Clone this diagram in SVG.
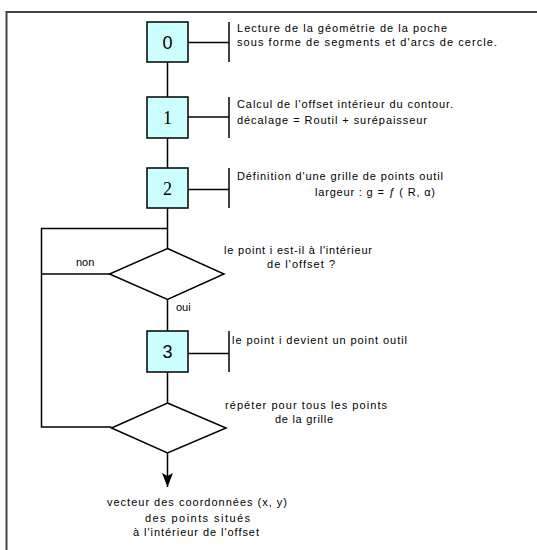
<svg xmlns="http://www.w3.org/2000/svg" width="537" height="550" viewBox="0 0 537 550">
<style>
.frame{stroke:#444;stroke-width:2;fill:none}
.ln{stroke:#000;stroke-width:1.5;fill:none}
.box{fill:#ccffff;stroke:#000;stroke-width:1.5}
.dia{fill:#fff;stroke:#000;stroke-width:1.5}
.t{font-family:"Liberation Sans",Arial,sans-serif;font-size:11px;fill:#000}
.num{font-size:18px;fill:#000;text-anchor:middle}
.sans{font-family:"Liberation Sans",Arial,sans-serif}
.serif{font-family:"Liberation Serif","Times New Roman",serif}
</style>
<defs>
<marker id="arr" viewBox="0 0 14 11" refX="14" refY="5.5" markerWidth="14" markerHeight="11" markerUnits="userSpaceOnUse" orient="auto">
<path d="M0,0 L14,5.5 L0,11 L3,5.5 Z" fill="#000"/>
</marker>
</defs>
<rect width="537" height="550" fill="#fff"/>
<path class="frame" d="M6.5,550 V12 H537"/>
<g id="connectors">
<line class="ln" x1="167.5" y1="62" x2="167.5" y2="97"/>
<line class="ln" x1="167.5" y1="138" x2="167.5" y2="168"/>
<line class="ln" x1="167.5" y1="208" x2="167.5" y2="248.5"/>
<polyline class="ln" points="109.5,274 41.5,274"/>
<polyline class="ln" points="167.5,228.5 41.5,228.5 41.5,427 111.5,427"/>
<line class="ln" x1="167.5" y1="299.5" x2="167.5" y2="331"/>
<line class="ln" x1="167.5" y1="372" x2="167.5" y2="403"/>
<line class="ln" x1="167.5" y1="453" x2="167.5" y2="487" marker-end="url(#arr)"/>
<text class="t" x="76" y="266">non</text>
<text class="t" x="176" y="311">oui</text>
</g>
<g id="step0">
<rect class="box" x="147" y="22" width="41" height="40"/>
<text class="num sans" x="167.5" y="48.5">0</text>
<line class="ln" x1="188" y1="42.5" x2="229" y2="42.5"/>
<line class="ln" x1="229" y1="22" x2="229" y2="62"/>
<text class="t" x="237" y="32" textLength="210" lengthAdjust="spacing">Lecture de la géométrie de la poche</text>
<text class="t" x="237" y="46" textLength="260" lengthAdjust="spacing">sous forme de segments et d'arcs de cercle.</text>
</g>
<g id="step1">
<rect class="box" x="147" y="97" width="41" height="41"/>
<text class="num serif" x="167.5" y="123.5">1</text>
<line class="ln" x1="188" y1="117" x2="229" y2="117"/>
<line class="ln" x1="229" y1="97" x2="229" y2="138"/>
<text class="t" x="237" y="108" textLength="216" lengthAdjust="spacing">Calcul de l'offset intérieur du contour.</text>
<text class="t" x="237" y="124" textLength="190" lengthAdjust="spacing">décalage = Routil + surépaisseur</text>
</g>
<g id="step2">
<rect class="box" x="147" y="168" width="41" height="40"/>
<text class="num serif" x="167.5" y="194.5">2</text>
<line class="ln" x1="188" y1="189.5" x2="229" y2="189.5"/>
<line class="ln" x1="229" y1="168" x2="229" y2="208"/>
<text class="t" x="237" y="180" textLength="206" lengthAdjust="spacing">Définition d'une grille de points outil</text>
<text class="t" x="315" y="196" textLength="120" lengthAdjust="spacing">largeur : g = <tspan font-style="italic">ƒ</tspan> ( R, α)</text>
</g>
<g id="test1">
<polygon class="dia" points="167.5,248.5 224,274 167.5,299.5 109.5,274"/>
<text class="t" x="224" y="254" textLength="148" lengthAdjust="spacing">le point i est-il à l'intérieur</text>
<text class="t" x="267" y="268" textLength="68" lengthAdjust="spacing">de l'offset ?</text>
</g>
<g id="step3">
<rect class="box" x="147" y="331" width="41" height="41"/>
<text class="num sans" x="167.5" y="358">3</text>
<line class="ln" x1="188" y1="353.5" x2="229" y2="353.5"/>
<line class="ln" x1="229" y1="331" x2="229" y2="372"/>
<text class="t" x="232" y="344" textLength="175" lengthAdjust="spacing">le point i devient un point outil</text>
</g>
<g id="test2">
<polygon class="dia" points="167.5,403 226,428 167.5,453 111.5,428"/>
<text class="t" x="225" y="409" textLength="162" lengthAdjust="spacing">répéter pour tous les points</text>
<text class="t" x="275" y="423" textLength="58" lengthAdjust="spacing">de la grille</text>
</g>
<g id="result">
<text class="t" x="107" y="506" textLength="180" lengthAdjust="spacing">vecteur des coordonnées (x, y)</text>
<text class="t" x="145" y="522" textLength="105" lengthAdjust="spacing">des points  situés</text>
<text class="t" x="133" y="536" textLength="126" lengthAdjust="spacing">à l'intérieur de l'offset</text>
</g>
</svg>
